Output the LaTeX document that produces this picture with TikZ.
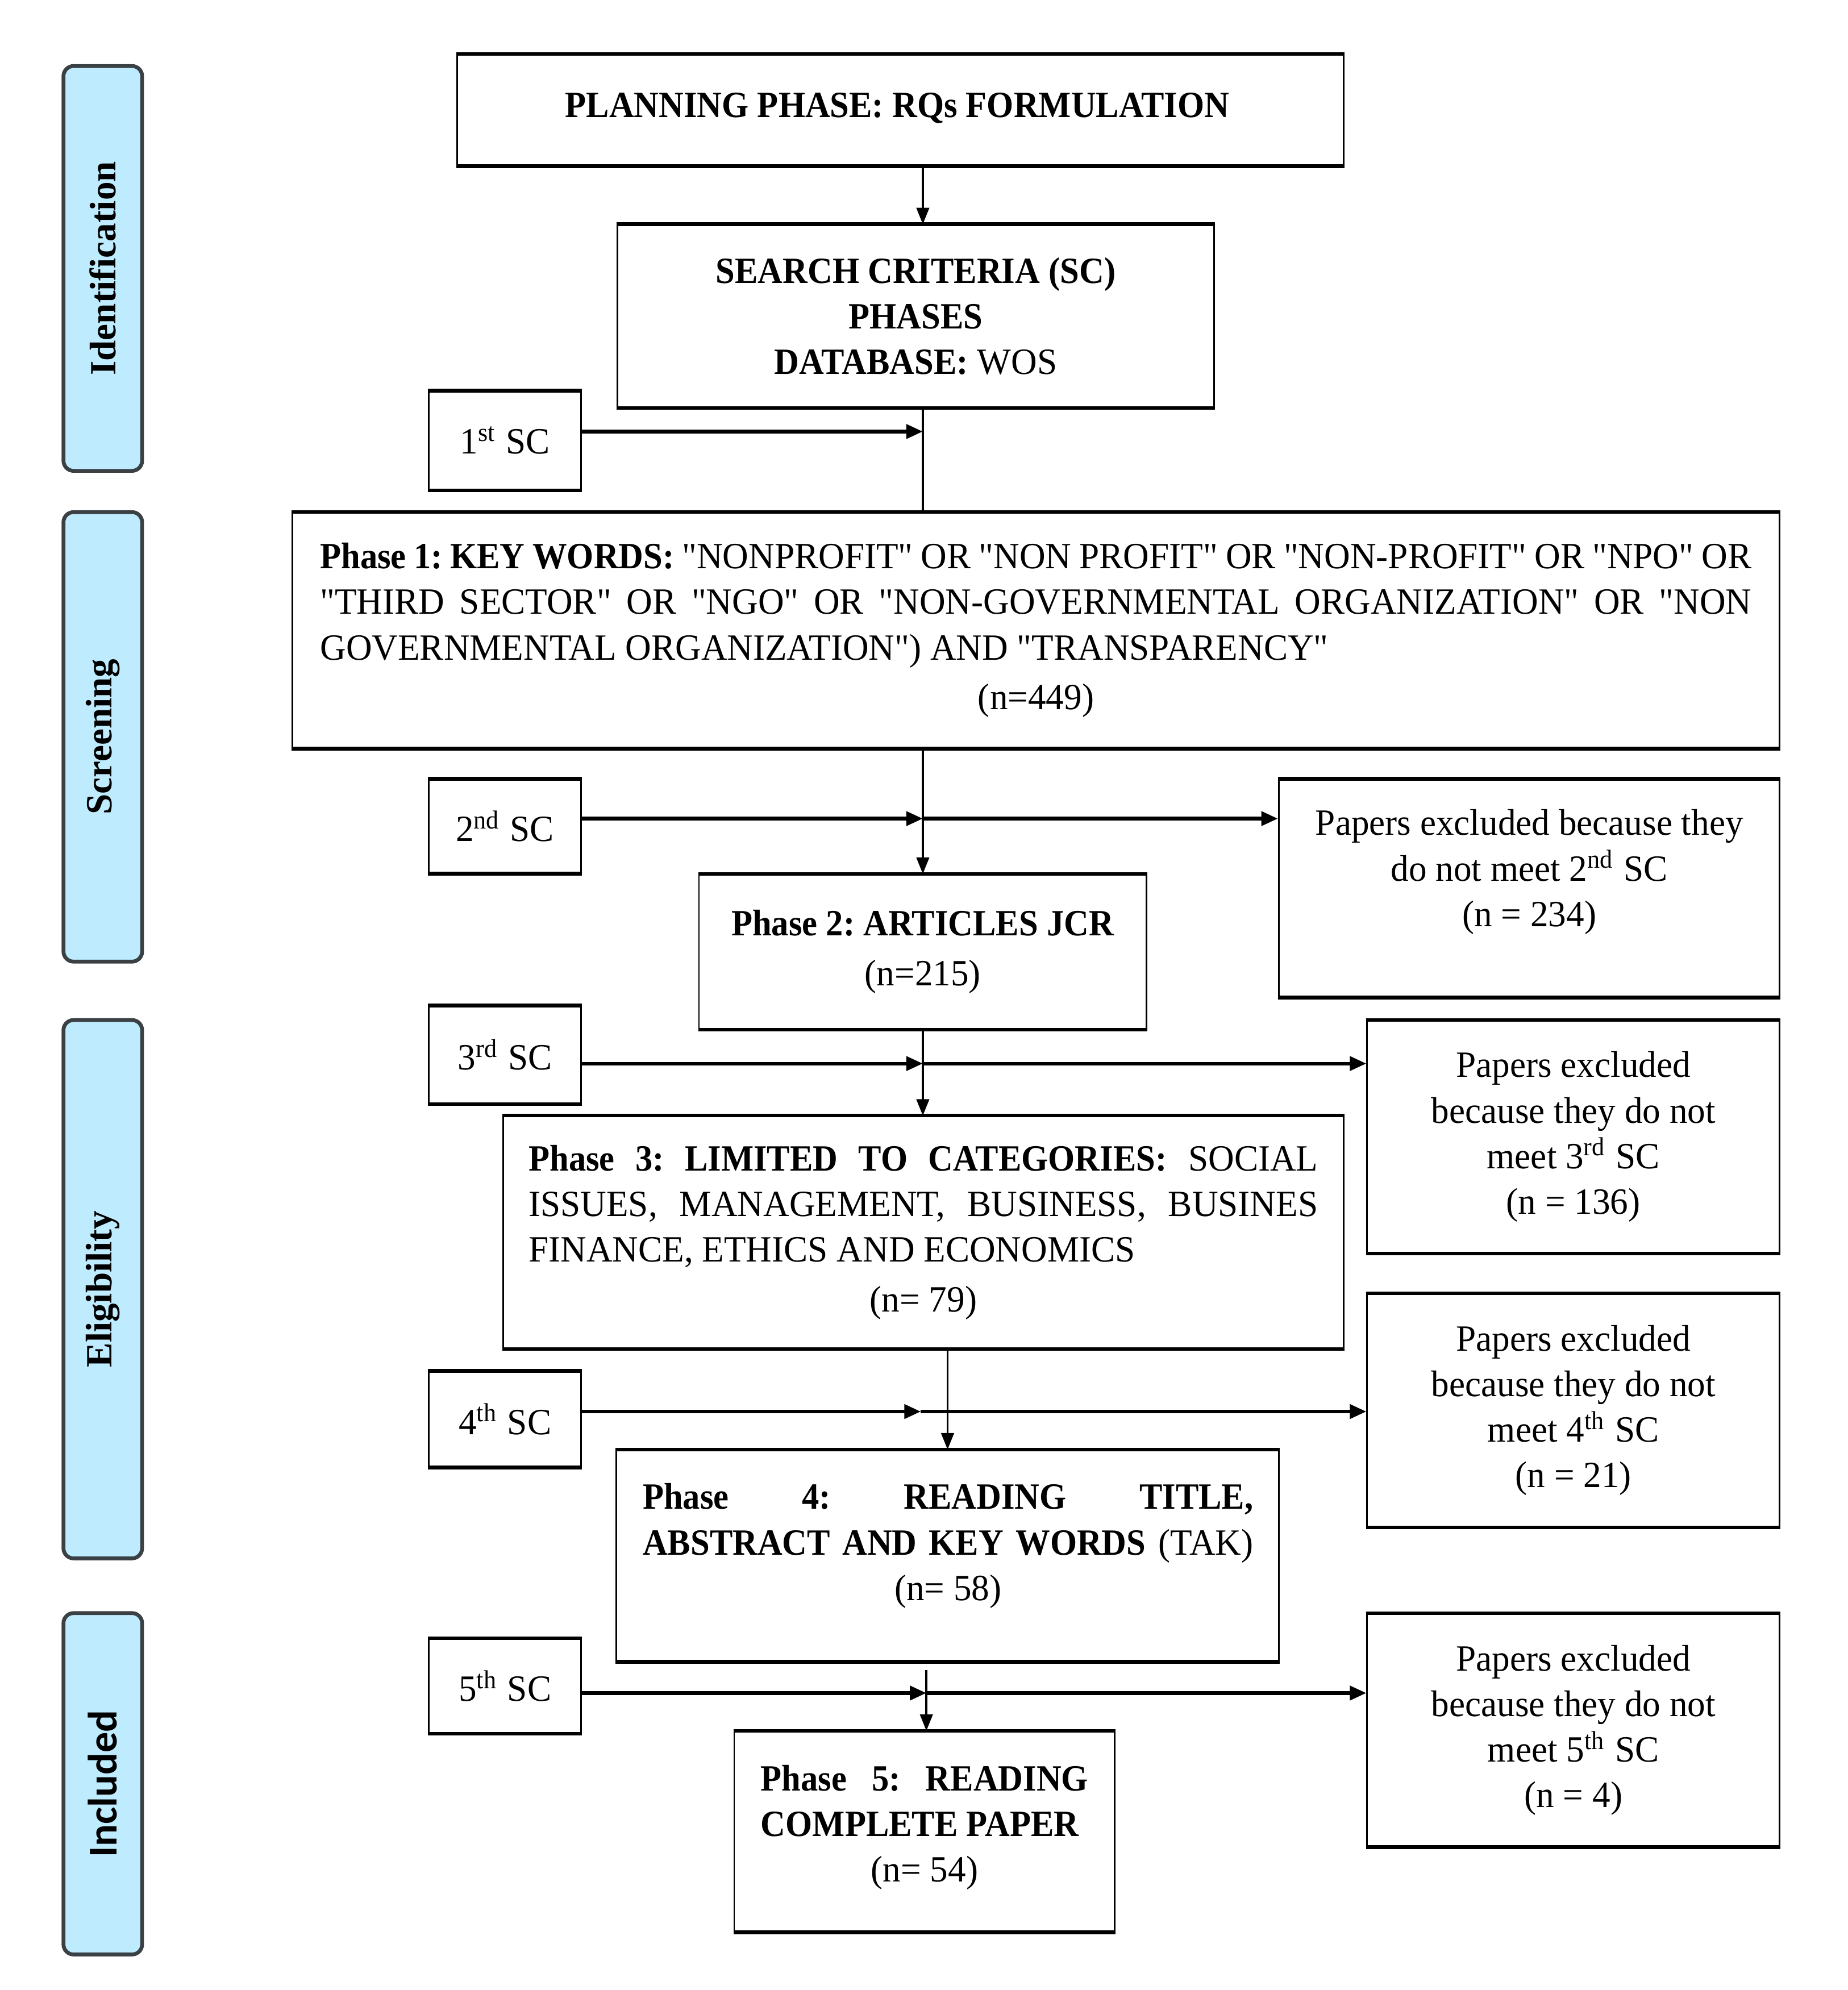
\documentclass[tikz,border=0pt]{standalone}
\usepackage{graphicx}
\usepackage{fontspec}
\setmainfont{Liberation Serif}[Ligatures=TeXOff,UprightFeatures={FakeStretch=0.97},BoldFeatures={FakeStretch=0.93}]
\newfontfamily\barserif{Liberation Serif}
\newfontfamily\barsans{Carlito}
\usetikzlibrary{arrows.meta}
\definecolor{barfill}{RGB}{190,235,253}
\definecolor{bardraw}{RGB}{58,64,68}
\frenchspacing
\begin{document}
\begin{tikzpicture}[x=0.1mm,y=-0.1mm,font=\fontsize{8.3}{10.2}\selectfont\frenchspacing,
  box/.style={draw=black,line width=0.13mm,inner sep=0pt,align=center,anchor=center},
  txt/.style={inner sep=0pt,align=center,anchor=center},
  bar/.style={draw=bardraw,fill=barfill,line width=0.3mm,rounded corners=0.8mm,minimum width=6.2mm,inner sep=0pt},
  vline/.style={line width=0.16mm},
  down/.style={line width=0.16mm,-{Triangle[length=1.3mm,width=1.0mm]}},
  sca/.style={line width=0.28mm,-{Triangle[length=1.3mm,width=1.1mm]}}]
\useasboundingbox (0,0) rectangle (1456,1568);
\fill[white] (0,0) rectangle (1456,1568);

% side bars
\node[bar,minimum height=31.9mm] (idbar) at (81,211.5) {\rotatebox{90}{\barserif\bfseries Identification}};
\node[bar,minimum height=35.42mm] (scbar) at (81,580.6) {\rotatebox{90}{\barserif\bfseries Screening}};
\node[bar,minimum height=42.42mm] (elbar) at (81,1015.8) {\rotatebox{90}{\barserif\bfseries Eligibility}};
\node[bar,minimum height=26.9mm] (inbar) at (81,1405.5) {\rotatebox{90}{\barsans\bfseries\fontsize{9.2}{11}\selectfont Included}};

% main boxes
\node[box,minimum width=69.83mm,minimum height=8.71mm] (plan) at (709.45,86.75) {};
\node[txt,font=\fontsize{8.3}{10.2}\selectfont\bfseries] (plant) at (707,85) {PLANNING PHASE: RQs FORMULATION};

\node[box,minimum width=46.99mm,minimum height=14.35mm] (search) at (721.55,249.05)
  {\textbf{SEARCH CRITERIA (SC)}\\\textbf{PHASES}\\\textbf{DATABASE:} WOS};

\node[box,minimum width=11.98mm,minimum height=7.71mm] (sc1) at (397.9,347.05) {1\textsuperscript{st} SC};

\node[box,minimum width=117.19mm,minimum height=18.51mm] (ph1) at (816.25,496.65)
  {\makebox[112.8mm][s]{\textbf{Phase 1: KEY WORDS:} "NONPROFIT" OR "NON PROFIT" OR "NON-PROFIT" OR "NPO" OR}\\
   \makebox[112.8mm][s]{"THIRD SECTOR" OR "NGO" OR "NON-GOVERNMENTAL ORGANIZATION" OR "NON}\\
   \makebox[112.8mm][l]{GOVERNMENTAL ORGANIZATION") AND "TRANSPARENCY"}\\[1pt]
   (n=449)};

\node[box,minimum width=11.98mm,minimum height=7.34mm] (sc2) at (397.9,651) {2\textsuperscript{nd} SC};
\node[box,minimum width=39.47mm,minimum height=17.11mm] (ex2) at (1204.85,699.85) {};
\node[txt] (ex2t) at (1205,687) {Papers excluded because they\\do not meet 2\textsuperscript{nd} SC\\(n = 234)};

\node[box,minimum width=35.28mm,minimum height=12.14mm] (ph2) at (727.1,749.9)
  {\textbf{Phase 2: ARTICLES JCR}\\[1pt](n=215)};

\node[box,minimum width=11.98mm,minimum height=7.65mm] (sc3) at (397.9,831.15) {3\textsuperscript{rd} SC};
\node[box,minimum width=32.5mm,minimum height=18.27mm] (ex3) at (1239.7,895.65)
  {Papers excluded\\because they do not\\meet 3\textsuperscript{rd} SC\\(n = 136)};

\node[box,minimum width=66.21mm,minimum height=18.26mm] (ph3) at (727.55,971)
  {\makebox[62.2mm][s]{\textbf{Phase 3: LIMITED TO CATEGORIES:} SOCIAL}\\
   \makebox[62.2mm][s]{ISSUES, MANAGEMENT, BUSINESS, BUSINES}\\
   \makebox[62.2mm][l]{FINANCE, ETHICS AND ECONOMICS}\\[1pt]
   (n= 79)};

\node[box,minimum width=11.98mm,minimum height=7.48mm] (sc4) at (397.9,1118.2) {4\textsuperscript{th} SC};
\node[box,minimum width=32.5mm,minimum height=18.33mm] (ex4) at (1239.7,1111.35)
  {Papers excluded\\because they do not\\meet 4\textsuperscript{th} SC\\(n = 21)};

\node[box,minimum width=52.18mm,minimum height=16.6mm] (ph4) at (746.6,1225.8) {};
\node[txt] (ph4t) at (747,1218)
  {\makebox[48.1mm][s]{\textbf{Phase 4: READING TITLE,}}\\
   \makebox[48.1mm][s]{\textbf{ABSTRACT AND KEY WORDS} (TAK)}\\
   (n= 58)};

\node[box,minimum width=11.98mm,minimum height=7.38mm] (sc5) at (397.9,1328.5) {5\textsuperscript{th} SC};
\node[box,minimum width=32.5mm,minimum height=18.3mm] (ex5) at (1239.7,1363.2)
  {Papers excluded\\because they do not\\meet 5\textsuperscript{th} SC\\(n = 4)};

\node[box,minimum width=29.99mm,minimum height=15.75mm] (ph5) at (728.45,1443.15) {};
\node[txt] (ph5t) at (728.5,1440)
  {\makebox[25.8mm][s]{\textbf{Phase 5: READING}}\\
   \makebox[25.8mm][l]{\textbf{COMPLETE PAPER}}\\
   (n= 54)};

% heavier top and bottom edges
\foreach \n in {plan,search,sc1,ph1,sc2,ex2,ph2,sc3,ex3,ph3,sc4,ex4,ph4,sc5,ex5,ph5}
  \draw[line width=0.28mm] (\n.north west) -- (\n.north east) (\n.south west) -- (\n.south east);

% connectors
\coordinate (mx) at (727.1,0);
\draw[down] (plan.south -| mx) -- (search.north -| mx);
\draw[vline] (search.south -| mx) -- (ph1.north -| mx);
\draw[down] (ph1.south -| mx) -- (ph2.north -| mx);
\draw[down] (ph2.south -| mx) -- (ph3.north -| mx);
\draw[down] (ph3.south -| ph4.north) -- (ph4.north);
\coordinate (v5) at (729.9,1315.7);
\draw[down] (v5) -- (v5 |- ph5.north);

\coordinate (j1) at (727.1,340);
\coordinate (j2) at (727.1,645);
\coordinate (j3) at (727.1,838);
\coordinate (j4) at (725.5,1112.2);
\coordinate (j5) at (729.9,1334);
\draw[sca] (sc1.east |- j1) -- (j1);
\draw[sca] (sc2.east |- j2) -- (j2);
\draw[sca] (j2) -- (ex2.west |- j2);
\draw[sca] (sc3.east |- j3) -- (j3);
\draw[sca] (j3) -- (ex3.west |- j3);
\draw[sca] (sc4.east |- j4) -- (j4);
\draw[sca] (j4) -- (ex4.west |- j4);
\draw[sca] (sc5.east |- j5) -- (j5);
\draw[sca] (j5) -- (ex5.west |- j5);
\end{tikzpicture}
\end{document}
